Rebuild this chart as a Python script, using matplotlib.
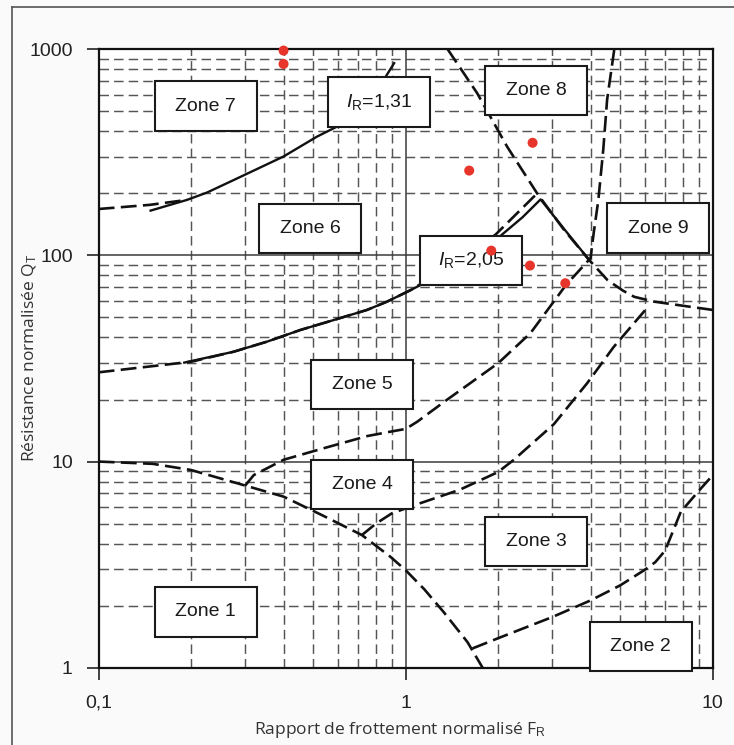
import matplotlib
matplotlib.use("Agg")
import matplotlib.pyplot as plt
from matplotlib.patches import Rectangle
from matplotlib.transforms import ScaledTranslation
from matplotlib.lines import Line2D
from matplotlib.ticker import FixedLocator, FixedFormatter, LogLocator, NullFormatter

plt.rcParams["mathtext.fontset"] = "custom"
plt.rcParams["mathtext.rm"] = "Liberation Sans"
plt.rcParams["mathtext.it"] = "Liberation Sans:italic"

# ---- boundary curves (F_R, Q_T) ----
zone1_x = [0.1, 0.15, 0.2, 0.3, 0.4, 0.54, 0.72, 0.89, 1.0, 1.15, 1.33, 1.59, 1.78]
zone1_y = [10.0, 9.75, 9.1, 7.65, 6.76, 5.45, 4.4, 3.46, 2.97, 2.4, 1.86, 1.33, 1.0]

zone2_x = [1.65, 2.0, 3.0, 4.0, 5.0, 6.0, 6.5, 7.0, 7.87, 9.0, 10.0]
zone2_y = [1.24, 1.39, 1.76, 2.12, 2.51, 2.98, 3.25, 3.7, 5.7, 7.2, 8.58]

zone34_x = [0.72, 0.8, 0.9, 1.07, 1.5, 2.0, 2.25, 3.04, 3.9, 4.76, 6.04]
zone34_y = [4.4, 5.0, 5.6, 6.15, 7.3, 8.9, 10.2, 15.2, 24.0, 36.0, 54.5]

zone45_x = [0.3, 0.32, 0.4, 0.54, 0.75, 0.9, 1.0, 1.09, 1.36, 2.0, 2.55, 3.33, 4.0, 4.1, 4.24, 4.4, 4.53, 4.78]
zone45_y = [7.65, 8.6, 10.2, 11.6, 13.3, 14.0, 14.4, 15.6, 19.9, 30.0, 42.0, 72.0, 97.0, 130.0, 185.0, 325.0, 570.0, 1000.0]

zone89_x = [1.37, 1.71, 2.14, 2.68, 3.28, 3.96, 4.54, 5.1, 5.55, 6.44, 8.0, 10.0]
zone89_y = [1000.0, 612.0, 337.0, 200.0, 133.0, 95.0, 76.0, 67.5, 63.0, 59.7, 57.0, 54.4]

zone56_x = [0.1, 0.2, 0.275, 0.354, 0.454, 0.583, 0.748, 0.87, 1.04, 1.5, 1.96, 2.68]
zone56_y = [27.1, 30.5, 34.1, 38.2, 43.5, 48.6, 54.4, 59.7, 68.0, 95.0, 126.0, 200.0]

zone67_x = [0.1, 0.147, 0.194]
zone67_y = [168.0, 176.0, 186.0]

# ---- I_R contours ----
ir205_x = [0.19, 0.275, 0.354, 0.454, 0.583, 0.748, 0.87, 1.04, 1.12, 1.5, 2.03, 2.4, 2.75, 3.3, 3.96]
ir205_y = [30.2, 34.1, 38.2, 43.5, 48.6, 54.4, 59.7, 68.0, 72.0, 95.0, 124.0, 153.0, 187.0, 133.0, 95.0]

ir131_x = [0.1476, 0.194, 0.2255, 0.275, 0.40, 0.514, 0.598, 0.86, 0.917]
ir131_y = [165.0, 186.0, 202.0, 232.0, 302.0, 377.0, 422.0, 735.0, 857.0]

# ---- measured points ----
pts_fr = [0.40, 0.40, 2.59, 1.61, 1.90, 2.54, 3.31]
pts_qt = [986.0, 849.0, 352.0, 258.0, 105.5, 89.3, 73.3]

# ---- zone labels: (text, F_R centre, Q_T centre) ----
label_text = ["Zone 7", r"$\mathit{I}_{\mathrm{R}}$=1,31", "Zone 8", "Zone 6", "Zone 9",
              r"$\mathit{I}_{\mathrm{R}}$=2,05", "Zone 5", "Zone 4", "Zone 3", "Zone 1", "Zone 2"]
label_fr = [0.2232, 0.821, 2.661, 0.4875, 6.645, 1.637, 0.720, 0.722, 2.661, 0.2232, 5.83]
label_qt = [530.0, 556.0, 630.0, 134.9, 135.5, 94.6, 23.6, 7.73, 4.09, 1.864, 1.27]

x_ticks = [0.1, 1, 10]
x_ticklabels = ["0,1", "1", "10"]
y_ticks = [1, 10, 100, 1000]
y_ticklabels = ["1", "10", "100", "1000"]

W, H = 734, 745
fig = plt.figure(figsize=(W / 100, H / 100), dpi=100, facecolor="#fafafa")
ax = fig.add_axes([98.7 / W, 1 - 667.7 / H, (712.7 - 98.7) / W, (667.7 - 49.3) / H])
ax.set_facecolor("white")
ax.set_xscale("log")
ax.set_yscale("log")
ax.set_xlim(0.1, 10)
ax.set_ylim(1, 1000)

# grid: solid decades, dashed sub-divisions
ax.xaxis.set_minor_locator(LogLocator(base=10, subs=range(2, 10)))
ax.yaxis.set_minor_locator(LogLocator(base=10, subs=range(2, 10)))
ax.xaxis.set_minor_formatter(NullFormatter())
ax.yaxis.set_minor_formatter(NullFormatter())
ax.grid(which="major", color="#3a3a3a", lw=1.1, ls="-", zorder=1)
ax.grid(which="minor", color="#555555", lw=1.05, ls=(0, (6.5, 3.5)), zorder=1)
ax.set_axisbelow(True)

ax.xaxis.set_major_locator(FixedLocator(x_ticks))
ax.xaxis.set_major_formatter(FixedFormatter(x_ticklabels))
ax.yaxis.set_major_locator(FixedLocator(y_ticks))
ax.yaxis.set_major_formatter(FixedFormatter(y_ticklabels))
ax.tick_params(which="minor", length=0)
ax.tick_params(which="major", direction="out", length=8.6, width=1.3, color="#333333",
               labelsize=14, labelcolor="#222222")
ax.tick_params(axis="x", pad=11)
ax.tick_params(axis="y", pad=10)
for lab in ax.get_xticklabels() + ax.get_yticklabels():
    lab.set_fontfamily("Liberation Sans")

for sp in ax.spines.values():
    sp.set_linewidth(1.6)
    sp.set_color("#111111")

dash = (0, (6, 2.4))
lw_b = 1.9
for xs, ys in [(zone1_x, zone1_y), (zone2_x, zone2_y), (zone34_x, zone34_y),
               (zone45_x, zone45_y), (zone89_x, zone89_y), (zone56_x, zone56_y),
               (zone67_x, zone67_y)]:
    ax.plot(xs, ys, color="#111111", lw=lw_b, ls=dash, zorder=3, dash_capstyle="butt",
            solid_joinstyle="round")

for xs, ys in [(ir205_x, ir205_y), (ir131_x, ir131_y)]:
    ax.plot(xs, ys, color="#111111", lw=1.7, ls="-", zorder=4, solid_joinstyle="round")

# labelled boxes (fixed size in inches, centred on a data position)
bw, bh = 1.02, 0.495
for txt, fx, qy in zip(label_text, label_fr, label_qt):
    tr = fig.dpi_scale_trans + ScaledTranslation(fx, qy, ax.transData)
    rect = Rectangle((-bw / 2, -bh / 2), bw, bh, transform=tr, facecolor="white",
                     edgecolor="#1a1a1a", lw=1.5, zorder=6, clip_on=False)
    ax.add_patch(rect)
    ax.text(fx, qy, txt, ha="center", va="center", fontsize=14, family="Liberation Sans",
            color="#1a1a1a", zorder=7, clip_on=False)

ax.scatter(pts_fr, pts_qt, s=52, color="#e8352b", edgecolors="none", zorder=8, clip_on=False)

ax.set_xlabel(r"Rapport de frottement normalisé F$_{\mathrm{R}}$", family="Open Sans",
              fontsize=12.5, color="#333333")
ax.set_ylabel(r"Résistance normalisée Q$_{\mathrm{T}}$", family="Open Sans",
              fontsize=12.5, color="#333333")
ax.xaxis.set_label_coords((400 - 98.7) / 614.0, (667.7 - 720) / 618.4)
ax.yaxis.set_label_coords((39 - 98.7) / 614.0, (667.7 - 358) / 618.4)

# outer frame
fig.add_artist(Line2D([11.5 / W, 11.5 / W], [0, 1 - 7 / H], transform=fig.transFigure,
                      color="#555555", lw=1.2))
fig.add_artist(Line2D([11.5 / W, 1], [1 - 7 / H, 1 - 7 / H], transform=fig.transFigure,
                      color="#555555", lw=1.2))

fig.savefig("out.png", dpi=100, facecolor=fig.get_facecolor())
